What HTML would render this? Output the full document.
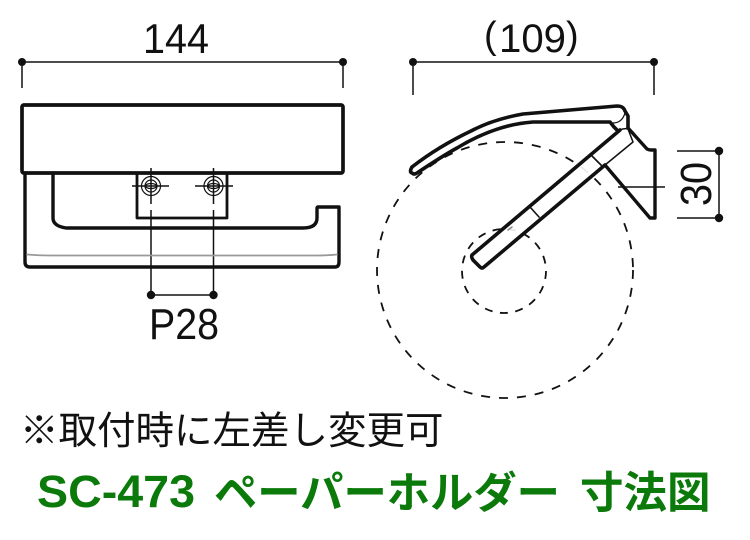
<!DOCTYPE html>
<html><head><meta charset="utf-8"><style>
html,body{margin:0;padding:0;background:#fff}
svg{display:block}
text{font-family:"Liberation Sans","Noto Sans CJK JP",sans-serif;fill:#111}
</style></head><body>
<svg width="750" height="540" viewBox="0 0 750 540" xmlns="http://www.w3.org/2000/svg">
<g fill="none" stroke="#111" stroke-linejoin="round" stroke-linecap="round">
<!-- dims -->
<g stroke-width="1.5" stroke-linecap="butt">
<path d="M22 62H343M22 62V88M343 62V88"/>
<path d="M413 62H654M413 62V95M654 62V95"/>
<path d="M151 210V295M213.500 210V295M151 295H213.500"/>
<path d="M677 151H719M677 218H719M719 151V218"/>
<path d="M618 187H665"/>
<path d="M151 168V204M132 186H169M213.500 168V204M195 186H233"/>
</g>
<!-- dashed circles -->
<circle cx="505" cy="270" r="128" stroke-width="1.800" stroke-dasharray="9 9" stroke-linecap="butt"/>
<circle cx="504" cy="271" r="42" stroke-width="1.800" stroke-dasharray="8 7.500" stroke-linecap="butt"/>
</g>
<!-- mask interior of cover and arm -->
<path d="M411.700 168C432 153 452 140 472 131C488 123 507 117 523 114L618 106L627 115L628 128L618 130L610 122L533 122C505 123 480 133 457 148L417 173Z" fill="#fff"/>
<path d="M472 255L620 130L633 142L483 268Z" fill="#fff" opacity=".9"/>
<g fill="none" stroke="#111" stroke-linejoin="round" stroke-linecap="round">
<!-- front view -->
<rect x="22" y="105" width="321" height="68" rx="2" stroke-width="3.700"/>
<path d="M25 173V262Q25 267 30 267H335Q339 267 339 262V207H318Q317 207 317 209V218Q317 228 303 228H66Q53 226 53 218V173" stroke-width="3.400"/>
<path d="M27 254.500Q38 255.500 50 255.500H315Q328 255.500 337 254.500" stroke="#999" stroke-width="1.800"/>
<path d="M137 173V218H227V173" stroke-width="2.800"/>
<g stroke-width="1.200">
<circle cx="151" cy="186" r="9.500"/><circle cx="151" cy="186" r="6"/><ellipse cx="151" cy="186" rx="5.500" ry="2.500"/>
<circle cx="213.500" cy="186" r="9.500"/><circle cx="213.500" cy="186" r="6"/><ellipse cx="213.500" cy="186" rx="5.500" ry="2.500"/>
</g>
<!-- side view -->
<path d="M412 167C430 153 450 141 471 131C488 122 506 117 523 114L617 106C622 106 624 108 625 111L628 116L628 128" stroke-width="3.600"/>
<path d="M412 167Q409 172 412 173Q414 175 417 173C432 163 444 155 457 148C480 134 505 124 533 122H600L610 122L614 127L618 131" stroke-width="3.600"/>
<path d="M613 123Q622 123 625 113" stroke-width="1.300"/>
<path d="M620 130L472 255Q471 257 473 260L480 267Q482 269 484 267L605 165" stroke-width="3.600"/>
<path d="M620 130Q624 128 628 129L633 142L605 165" stroke-width="1.500"/>
<path d="M628 128L647 149Q649 150 651 150H655V218H650L605 165" stroke-width="3.400"/>
<path d="M592 156L603 167M530 207L539 217" stroke-width="1.600"/>
<path d="M508 230L512 227" stroke="#888" stroke-width="1.500"/>
</g>
<g fill="#111">
<circle cx="22" cy="62" r="4"/><circle cx="343" cy="62" r="4"/>
<circle cx="413" cy="62" r="4"/><circle cx="654" cy="62" r="4"/>
<circle cx="151" cy="295" r="4.200"/><circle cx="213.500" cy="295" r="4.200"/>
<circle cx="719" cy="151" r="4.200"/><circle cx="719" cy="218" r="4.200"/>
</g>
<text x="143" y="53" font-size="42" textLength="66" lengthAdjust="spacingAndGlyphs">144</text>
<text x="499" y="52" font-size="40" textLength="67" lengthAdjust="spacingAndGlyphs">109</text>
<text x="484" y="48" font-size="38" font-weight="400">(</text>
<text x="566" y="48" font-size="38" font-weight="400">)</text>
<text x="149" y="339" font-size="44" textLength="70" lengthAdjust="spacingAndGlyphs">P28</text>
<text transform="translate(711 206) rotate(-90)" font-size="44" textLength="44" lengthAdjust="spacingAndGlyphs">30</text>
<text x="20" y="444" font-size="38.500">※取付時に左差し変更可</text>
<g style="font-weight:bold">
<text x="37" y="507" font-size="45" font-weight="700" textLength="158" lengthAdjust="spacingAndGlyphs" style="fill:#0b7a0b">SC-473</text>
<text x="214" y="508" font-size="43.300" font-weight="700" style="fill:#0b7a0b">ペーパーホルダー</text>
<text x="580" y="508" font-size="43.500" font-weight="700" style="fill:#0b7a0b">寸法図</text>
</g>
</svg>
</body></html>
